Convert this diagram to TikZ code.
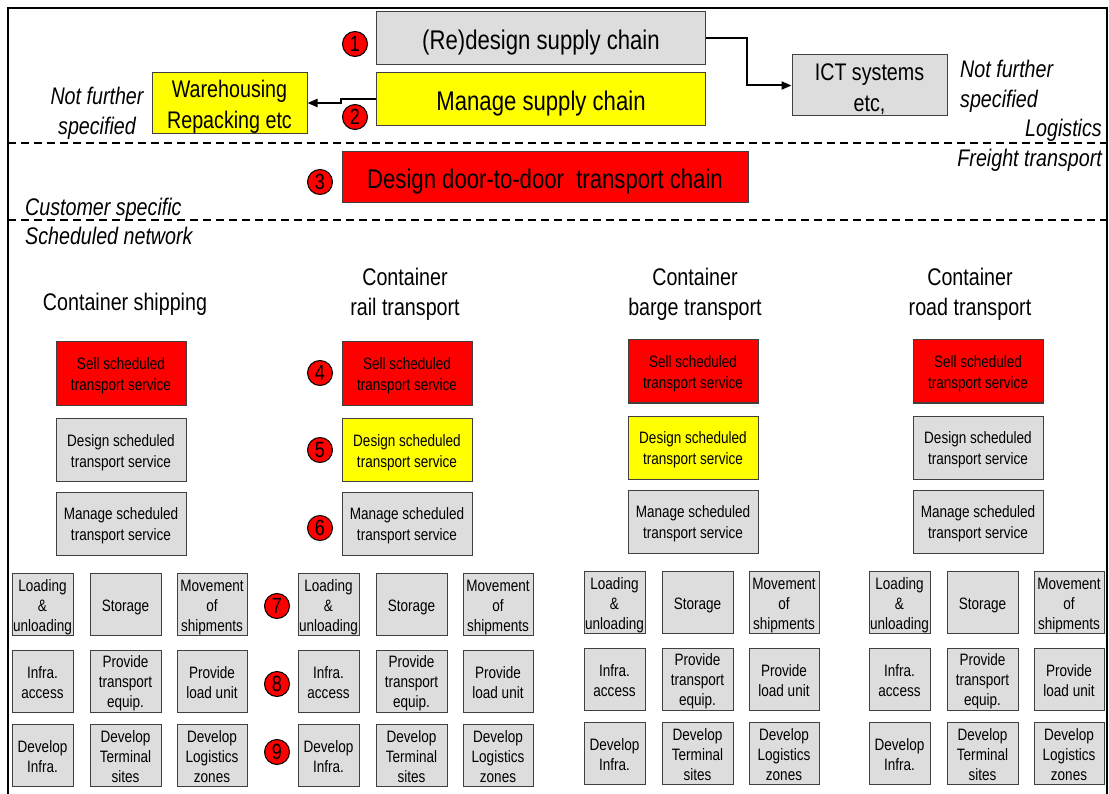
\documentclass[tikz,border=0pt]{standalone}
\usepackage{fontspec}
\setmainfont{Liberation Sans}[FakeStretch=0.82]
\usetikzlibrary{arrows.meta}

\definecolor{boxgray}{HTML}{DDDDDD}
\definecolor{boxred}{HTML}{FF0000}
\definecolor{boxyellow}{HTML}{FFFF00}

\newcommand*\szLarge{\fontsize{27}{32}\selectfont}
\newcommand*\szHead{\fontsize{24}{30}\selectfont}
\newcommand*\szSide{\fontsize{24}{31}\selectfont}
\newcommand*\szSmall{\fontsize{16.5}{21}\selectfont}
\newcommand*\szTiny{\fontsize{16.5}{20}\selectfont}
\newcommand*\szNum{\fontsize{22}{22}\selectfont}
% invisible line strut: gives the first and last text line a fixed ascent and descent
\newcommand*\ls{\rule[-0.2em]{0pt}{1.25em}}

\begin{document}
\begin{tikzpicture}[x=1pt,y=-1pt,
  struts/.style={execute at begin node=\ls, execute at end node=\ls},
  box/.style={draw=black!75, line width=1pt, inner sep=0pt, align=center, text=black, struts},
  graybox/.style={box, fill=boxgray},
  redbox/.style={box, fill=boxred},
  yellowbox/.style={box, fill=boxyellow},
  topbox/.style={minimum width=329pt, minimum height=53pt, font=\szLarge},
  sidebox/.style={minimum width=155pt, minimum height=61pt, font=\szSide},
  servicebox/.style={minimum width=130pt, minimum height=63pt, font=\szSmall},
  taskbox/.style={minimum height=62pt, font=\szTiny},
  num/.style={circle, draw=black, line width=1pt, fill=boxred, minimum size=25pt, inner sep=0pt, font=\szNum},
  tag/.style={font=\szHead\itshape, inner sep=0pt, struts},
  heading/.style={font=\szHead, align=center, inner sep=0pt, struts},
  dashrule/.style={dash pattern=on 8pt off 5pt, line width=1.5pt},
  arr/.style={line width=2pt, -{Triangle[length=10pt,width=8pt]}}
]
\useasboundingbox (0,0) rectangle (1109,794);

% frame and layer separators
\draw[line width=1.5pt] (8,794) -- (8,8) -- (1107,8) -- (1107,794);
\draw[dashrule] (8,143) -- (1107,143);
\draw[dashrule] (8,220) -- (1107,220);

% layer labels
\node[tag, anchor=east] (lLog) at (1102,126) {Logistics};
\node[tag, anchor=east] (lFre) at (1102,156) {Freight transport};
\node[tag, anchor=west] (lCus) at (25,205) {Customer specific};
\node[tag, anchor=west] (lSch) at (25,234) {Scheduled network};

% logistics layer
\node[graybox, topbox] (b1) at (541,38.5) {(Re)design supply chain};
\node[yellowbox, topbox] (b2) at (541,99) {Manage supply chain};
\node[yellowbox, sidebox] (wh) at (229.5,103) {\ls Warehousing\\Repacking etc};
\node[graybox, sidebox] (ict) at (869.5,85.5) {\ls ICT systems\\etc,};
\node[tag, align=center] (nfL) at (97,109) {\ls Not further\\specified};
\node[tag, align=left, anchor=west] (nfR) at (960,82) {\ls Not further\\specified};

\draw[arr] (b2.west) -- ++(-35,0) |- (wh.east);
\draw[arr] (b1.east) -- ++(41,0) |- (ict.west);

% freight transport layer
\node[redbox, minimum width=406pt, minimum height=51pt, font=\szLarge] (b3) at (545,177) {Design door-to-door~~transport chain};

% number markers
\node[num] (n1) at (355,44) {1};
\node[num] (n2) at (355,117) {2};
\node[num] (n3) at (320,182) {3};
\node[num] (n4) at (320,373) {4};
\node[num] (n5) at (320,450) {5};
\node[num] (n6) at (320,528) {6};
\node[num] (n7) at (277,606) {7};
\node[num] (n8) at (277,684) {8};
\node[num] (n9) at (277,752) {9};

% column headings
\node[heading] (h1) at (125,300) {Container shipping};
\node[heading] (h2) at (405,290) {\ls Container\\rail transport};
\node[heading] (h3) at (695,290) {\ls Container\\barge transport};
\node[heading] (h4) at (970,290) {\ls Container\\road transport};

% scheduled services per modality
\node[redbox, servicebox] (s1a) at (121,373.5) {\ls Sell scheduled\\transport service};
\node[graybox, servicebox] (s1b) at (121,450) {\ls Design scheduled\\transport service};
\node[graybox, servicebox] (s1c) at (121,523.5) {\ls Manage scheduled\\transport service};

\node[redbox, servicebox] (s2a) at (407,373.5) {\ls Sell scheduled\\transport service};
\node[yellowbox, servicebox] (s2b) at (407,450) {\ls Design scheduled\\transport service};
\node[graybox, servicebox] (s2c) at (407,523.5) {\ls Manage scheduled\\transport service};

\node[redbox, servicebox] (s3a) at (693,371.5) {\ls Sell scheduled\\transport service};
\node[yellowbox, servicebox] (s3b) at (693,447.5) {\ls Design scheduled\\transport service};
\node[graybox, servicebox] (s3c) at (693,521.5) {\ls Manage scheduled\\transport service};

\node[redbox, servicebox] (s4a) at (978,371.5) {\ls Sell scheduled\\transport service};
\node[graybox, servicebox] (s4b) at (978,447.5) {\ls Design scheduled\\transport service};
\node[graybox, servicebox] (s4c) at (978,521.5) {\ls Manage scheduled\\transport service};

% operational tasks per modality
\foreach \g/\dx/\dy in {1/0/0, 2/286/0, 3/572/-2, 4/857/-2} {
  \begin{scope}[shift={(\dx,\dy)}]
    \node[graybox, taskbox, minimum width=61pt] (t\g-1-1) at (42.5,604.5) {\ls Loading\\\&\\unloading};
    \node[graybox, taskbox, minimum width=71pt] (t\g-1-2) at (125.5,604.5) {Storage};
    \node[graybox, taskbox, minimum width=70pt] (t\g-1-3) at (212,604.5) {\ls Movement\\of\\shipments};
    \node[graybox, taskbox, minimum width=61pt] (t\g-2-1) at (42.5,681) {\ls Infra.\\access};
    \node[graybox, taskbox, minimum width=71pt] (t\g-2-2) at (125.5,681) {\ls Provide\\transport\\equip.};
    \node[graybox, taskbox, minimum width=70pt] (t\g-2-3) at (212,681) {\ls Provide\\load unit};
    \node[graybox, taskbox, minimum width=61pt] (t\g-3-1) at (42.5,755.5) {\ls Develop\\Infra.};
    \node[graybox, taskbox, minimum width=71pt] (t\g-3-2) at (125.5,755.5) {\ls Develop\\Terminal\\sites};
    \node[graybox, taskbox, minimum width=70pt] (t\g-3-3) at (212,755.5) {\ls Develop\\Logistics\\zones};
  \end{scope}
}
\end{tikzpicture}
\end{document}
